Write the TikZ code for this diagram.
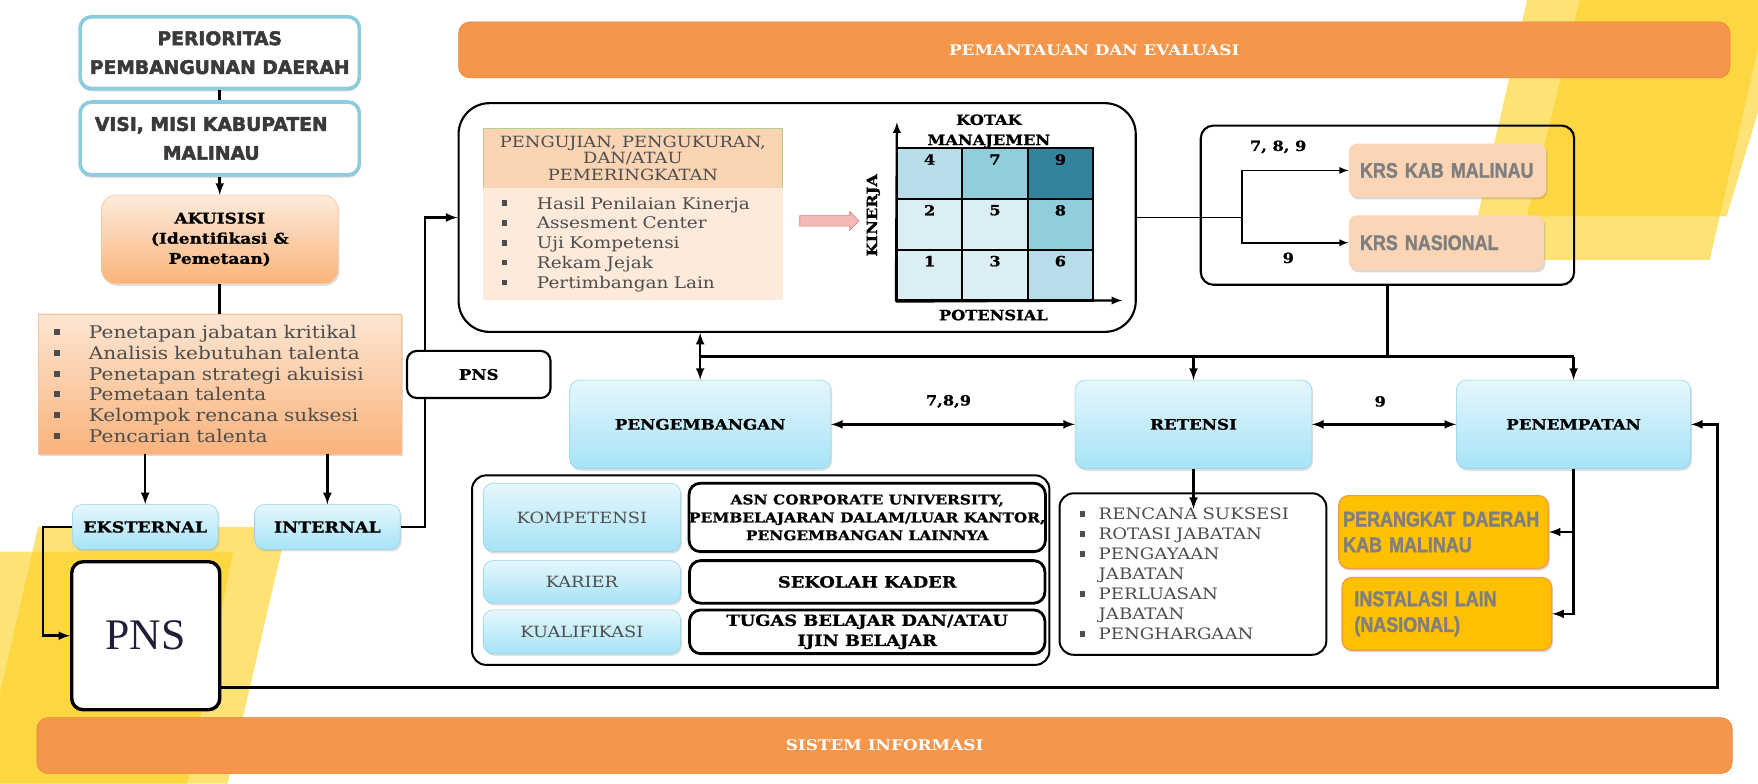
\documentclass[tikz,border=0pt]{standalone}
\usepackage{fontspec}
\setmainfont{DejaVu Serif}[FakeStretch=1.15]
\newfontfamily\serifheavy{DejaVu Serif}[UprightFont={* Bold}, FakeStretch=1.15, FakeBold=1]
\newfontfamily\heavyfont{DejaVu Sans}[UprightFont={* Bold}, FakeBold=2.5]
\newfontfamily\narrowfont{Liberation Sans}[UprightFont={* Bold}, FakeStretch=0.85, FakeBold=1.5]
\newfontfamily\timesfont{Liberation Serif}
\usepackage{xcolor}
\usepackage{tikz}
\usetikzlibrary{shapes.arrows,shadows}

\definecolor{framecol}{HTML}{8DCBDF}
\definecolor{txtdark}{HTML}{3A3A3A}
\definecolor{txtgray}{HTML}{4D4D4D}
\definecolor{txtmid}{HTML}{7F7F7F}
\definecolor{bluetop}{HTML}{E6F7FC}
\definecolor{bluebot}{HTML}{A6E3F7}
\definecolor{bluedge}{HTML}{93D2E8}
\definecolor{barfill}{HTML}{F5964A}
\definecolor{baredge}{HTML}{E3853C}
\definecolor{akutop}{HTML}{FDEBDC}
\definecolor{akubot}{HTML}{FBB47A}
\definecolor{akuedge}{HTML}{F8C49A}
\definecolor{listtop}{HTML}{FDE6D3}
\definecolor{listbot}{HTML}{FAB37C}
\definecolor{hdrfill}{HTML}{FBD4B4}
\definecolor{hdredge}{HTML}{B7CF8E}
\definecolor{ujifill}{HTML}{FDEADA}
\definecolor{gone}{HTML}{DBEEF3}
\definecolor{gtwo}{HTML}{B7DDE8}
\definecolor{gthree}{HTML}{92CDDC}
\definecolor{gfour}{HTML}{31849B}
\definecolor{krspeach}{HTML}{FBD5B5}
\definecolor{yel}{HTML}{FFC000}
\definecolor{yeledge}{HTML}{F79646}
\definecolor{arrowpink}{HTML}{F5B8B8}
\definecolor{arrowred}{HTML}{D9777A}
\definecolor{bgyellow}{HTML}{FDD021}
\definecolor{pnsink}{HTML}{1F1F3A}

\newcommand{\unitpx}{0.028cm}
\newcommand{\fsz}[2]{\fontsize{#1}{#2}\selectfont}
\newcommand{\sqb}{\rule[0.2em]{0.34em}{0.34em}}
\newcommand{\itm}[2][25pt]{\makebox[#1][l]{\sqb}#2}

\begin{document}
\begin{tikzpicture}[x=\unitpx, y=-\unitpx,
        conn/.style={line width=1.8pt},
        branch/.style={line width=1.2pt},
        framed/.style={draw=framecol, line width=2.6pt, fill=white, rounded corners=8pt, inner sep=0pt, align=center, minimum width=249*\unitpx, text=txtdark, font=\heavyfont\fsz{13.3}{20.5}, drop shadow={opacity=0.35, shadow xshift=0pt, shadow yshift=-2pt}},
        bluebox/.style={draw=bluedge, top color=bluetop, bottom color=bluebot, rounded corners=7pt, inner sep=0pt, align=center, text=black, font=\serifheavy\fsz{10.3}{13}, drop shadow={opacity=0.25, shadow xshift=1pt, shadow yshift=-1.5pt}},
        plainbox/.style={draw, line width=1.5pt, rounded corners=8pt, inner sep=0pt, align=center},
        bar/.style={draw=baredge, fill=barfill, rounded corners=8pt, minimum height=50*\unitpx, text=white, font=\bfseries\fsz{10.4}{12}},
        cell/.style={draw, line width=1.6pt, minimum width=58.3*\unitpx, minimum height=45.3*\unitpx, inner sep=0pt},
        krsbox/.style={fill=krspeach, rounded corners=6pt, inner ysep=0pt, align=left, text=txtmid, font=\narrowfont\fsz{15}{18}, drop shadow={opacity=0.3, shadow xshift=1pt, shadow yshift=-1.5pt}},
        yelbox/.style={draw=yeledge, line width=0.8pt, fill=yel, rounded corners=7pt, inner ysep=0pt, align=left, text=txtmid, font=\narrowfont\fsz{15}{18.3}, drop shadow={opacity=0.3, shadow xshift=1pt, shadow yshift=-1.5pt}},
        tag/.style={font=\serifheavy\fsz{10}{12}}]

        \useasboundingbox (0,0) rectangle (1568,699);

        \fill[bgyellow, fill opacity=0.62] (1362,0) -- (1568,0) -- (1568,43) -- (1525,232) -- (1309,232) -- cycle;
        \fill[bgyellow, fill opacity=0.62] (1409,0) -- (1568,0) -- (1568,100) -- (1540,193) -- (1362,193) -- cycle;
        \fill[bgyellow, fill opacity=0.62] (34,470) -- (256,470) -- (203,699) -- (0,699) -- (0,618) -- cycle;
        \fill[bgyellow, fill opacity=0.62] (0,492) -- (208,492) -- (167,699) -- (0,699) -- cycle;

        \node[bar, minimum width=1134*\unitpx] (monev) at (976,44.5) {PEMANTAUAN DAN EVALUASI};
        \node[bar, minimum width=1512*\unitpx] (sisinfo) at (789,665) {SISTEM INFORMASI};

        \node[framed, minimum height=64*\unitpx] (prio) at (196,47) {PERIORITAS\\PEMBANGUNAN DAERAH};
        \node[framed, minimum height=65*\unitpx] (visi) at (196,123.5) {VISI, MISI KABUPATEN\hspace*{12pt}\\MALINAU\hspace*{12pt}};
        \node[draw=akuedge, top color=akutop, bottom color=akubot, rounded corners=10pt, minimum width=211*\unitpx, minimum height=79*\unitpx, inner sep=0pt, align=center, font=\serifheavy\fsz{10.5}{14.3}, drop shadow={opacity=0.25, shadow xshift=1pt, shadow yshift=-1.5pt}] (akuisisi) at (196,213.5) {AKUISISI\\(Identifikasi \&\\Pemetaan)};
        \node[draw=akuedge, top color=listtop, bottom color=listbot, minimum width=324*\unitpx, minimum height=125*\unitpx, inner xsep=14*\unitpx, inner ysep=0pt, text width=8.288cm, align=left, text=txtgray, font=\fsz{12.4}{14.7}, drop shadow={opacity=0.3, shadow xshift=1.5pt, shadow yshift=-1.5pt}] (daftar) at (196,342.5) {\itm{Penetapan jabatan kritikal}\\\itm{Analisis kebutuhan talenta}\\\itm{Penetapan strategi akuisisi}\\\itm{Pemetaan talenta}\\\itm{Kelompok rencana suksesi}\\\itm{Pencarian talenta}};
        \node[bluebox, minimum width=130*\unitpx, minimum height=40*\unitpx, font=\serifheavy\fsz{10.8}{13}] (eks) at (129.5,470) {EKSTERNAL};
        \node[bluebox, minimum width=130*\unitpx, minimum height=40*\unitpx, font=\serifheavy\fsz{10.8}{13}] (int) at (292,470) {INTERNAL};
        \node[plainbox, line width=2.4pt, fill=white, minimum width=132*\unitpx, minimum height=132*\unitpx, text=pnsink, font=\timesfont\fsz{31}{36}] (pnsbig) at (130,567) {PNS};

        \draw[conn] (prio) -- (visi);
        \draw[conn,-latex] (visi) -- (akuisisi);
        \draw[conn] (akuisisi) -- (daftar);
        \draw[conn,-latex] (daftar.south -| eks.north) -- (eks.north);
        \draw[conn,-latex] (daftar.south -| int.north) -- (int.north);
        \draw[conn,-latex] (eks.west) -- ++(-26,0) |- (pnsbig.west);

        \node[plainbox, rounded corners=22pt, minimum width=604*\unitpx, minimum height=204*\unitpx] (uji) at (711,194) {};
        \draw[conn,-latex] (int.east) -- ++(22,0) |- (uji.west);
        \node[plainbox, fill=white, rounded corners=7pt, minimum width=128*\unitpx, minimum height=42*\unitpx, font=\serifheavy\fsz{10.3}{12}] (pnsk) at (427,334) {PNS};

        \node[draw=hdredge, fill=hdrfill, minimum width=267*\unitpx, minimum height=54*\unitpx, inner sep=0pt, align=center, text=txtgray, font=\fsz{11}{11.6}] (hdr) at (564.5,141) {PENGUJIAN, PENGUKURAN,\\DAN/ATAU\\PEMERINGKATAN};
        \node[fill=ujifill, minimum width=267*\unitpx, minimum height=100*\unitpx, inner xsep=16.5*\unitpx, inner ysep=0pt, text width=6.552cm, align=left, text=txtgray, font=\fsz{11.4}{14.1}] (ujilist) at (564.5,218) {\itm{Hasil Penilaian Kinerja}\\\itm{Assesment Center}\\\itm{Uji Kompetensi}\\\itm{Rekam Jejak}\\\itm{Pertimbangan Lain}};
        \node[single arrow, draw=arrowred, fill=arrowpink, minimum height=53*\unitpx, text height=4pt, text depth=3pt, single arrow head extend=3pt, inner sep=0pt] (pink) at (737.5,197) {};

        \node[align=center, font=\serifheavy\fsz{10}{14.3}] (kotak) at (882,117) {KOTAK\\MANAJEMEN};
        \node[tag, rotate=90] (kinerja) at (779,192) {KINERJA};
        \node[tag] (potensial) at (886,281) {POTENSIAL};

        \node[cell, fill=gtwo, label={[anchor=north, inner sep=5pt, tag]north:4}] (c4) at (829.2,154.7) {};
        \node[cell, fill=gthree, label={[anchor=north, inner sep=5pt, tag]north:7}] (c7) at (887.5,154.7) {};
        \node[cell, fill=gfour, label={[anchor=north, inner sep=5pt, tag]north:9}] (c9) at (945.8,154.7) {};
        \node[cell, fill=gone, label={[anchor=north, inner sep=5pt, tag]north:2}] (c2) at (829.2,200) {};
        \node[cell, fill=gone, label={[anchor=north, inner sep=5pt, tag]north:5}] (c5) at (887.5,200) {};
        \node[cell, fill=gthree, label={[anchor=north, inner sep=5pt, tag]north:8}] (c8) at (945.8,200) {};
        \node[cell, fill=gone, label={[anchor=north, inner sep=5pt, tag]north:1}] (c1) at (829.2,245.3) {};
        \node[cell, fill=gone, label={[anchor=north, inner sep=5pt, tag]north:3}] (c3) at (887.5,245.3) {};
        \node[cell, fill=gtwo, label={[anchor=north, inner sep=5pt, tag]north:6}] (c6) at (945.8,245.3) {};

        \coordinate (ytop) at (800,109);
        \coordinate (xend) at (1001,268);
        \draw[line width=1.6pt,-latex] (c1.south west) -- (ytop);
        \draw[line width=1.6pt,-latex] (c1.south west) -- (xend);

        \node[plainbox, rounded corners=9pt, minimum width=333*\unitpx, minimum height=142*\unitpx] (krs) at (1237.5,183) {};
        \node[krsbox, minimum width=176*\unitpx, minimum height=48*\unitpx, inner xsep=10*\unitpx, text width=4.368cm] (krskab) at (1291,152) {KRS KAB MALINAU};
        \node[krsbox, minimum width=174*\unitpx, minimum height=49*\unitpx, inner xsep=10*\unitpx, text width=4.312cm] (krsnas) at (1290,216.5) {KRS NASIONAL};
        \node[tag] (lkab) at (1140,131) {7, 8, 9};
        \node[tag] (lnas) at (1149,230) {9};

        \coordinate (fork) at (1108,194);
        \draw[branch] (uji.east) -- (fork);
        \draw[branch,-latex] (fork) |- (krskab.west);
        \draw[branch,-latex] (fork) |- (krsnas.west);

        \node[bluebox, minimum width=233*\unitpx, minimum height=79*\unitpx] (pengembangan) at (624.5,378.5) {PENGEMBANGAN};
        \node[bluebox, minimum width=211*\unitpx, minimum height=79*\unitpx] (retensi) at (1064.5,378.5) {RETENSI};
        \node[bluebox, minimum width=209*\unitpx, minimum height=79*\unitpx] (penempatan) at (1403.5,378.5) {PENEMPATAN};
        \node[tag] (lpr) at (846,358) {7,8,9};
        \node[tag] (lrp) at (1231,358) {9};

        \coordinate (hub) at (624.5,318);
        \draw[conn,latex-latex] (uji.south -| pengembangan.north) -- (pengembangan.north);
        \draw[conn] (hub) -- (hub -| penempatan.north);
        \draw[conn] (krs.south) -- (krs.south |- hub);
        \draw[conn,-latex] (hub -| retensi.north) -- (retensi.north);
        \draw[conn,-latex] (hub -| penempatan.north) -- (penempatan.north);
        \draw[conn,latex-latex] (pengembangan.east) -- (retensi.west);
        \draw[conn,latex-latex] (retensi.east) -- (penempatan.west);

        \node[plainbox, line width=1.4pt, rounded corners=10pt, minimum width=515*\unitpx, minimum height=169*\unitpx] (panel) at (678.5,508.5) {};
        \node[bluebox, minimum width=176*\unitpx, minimum height=61*\unitpx, text=txtgray, font=\fsz{11}{13}] (komp) at (519,461.5) {KOMPETENSI};
        \node[bluebox, minimum width=176*\unitpx, minimum height=38*\unitpx, text=txtgray, font=\fsz{11}{13}] (karier) at (519,519) {KARIER};
        \node[bluebox, minimum width=176*\unitpx, minimum height=39*\unitpx, text=txtgray, font=\fsz{11}{13}] (kualif) at (519,563.5) {KUALIFIKASI};
        \node[plainbox, line width=2pt, fill=white, minimum width=317*\unitpx, minimum height=61*\unitpx, font=\serifheavy\fsz{9.5}{12.7}] (asn) at (773.5,461.5) {ASN CORPORATE UNIVERSITY,\\PEMBELAJARAN DALAM/LUAR KANTOR,\\PENGEMBANGAN LAINNYA};
        \node[plainbox, line width=2pt, fill=white, minimum width=317*\unitpx, minimum height=38*\unitpx, font=\serifheavy\fsz{11}{13}] (kader) at (773.5,519) {SEKOLAH KADER};
        \node[plainbox, line width=2pt, fill=white, minimum width=317*\unitpx, minimum height=39*\unitpx, font=\serifheavy\fsz{11}{14.3}] (tugas) at (773.5,563.5) {TUGAS BELAJAR DAN/ATAU\\IJIN BELAJAR};

        \node[plainbox, line width=1.4pt, fill=white, rounded corners=10pt, minimum width=238*\unitpx, minimum height=144*\unitpx, inner xsep=18*\unitpx, text width=5.656cm, align=left, text=txtgray, font=\fsz{11.2}{14.2}] (retlist) at (1064,512) {\itm[13.5pt]{RENCANA SUKSESI}\\\itm[13.5pt]{ROTASI JABATAN}\\\itm[13.5pt]{PENGAYAAN}\\\hspace*{13.5pt}JABATAN\\\itm[13.5pt]{PERLUASAN}\\\hspace*{13.5pt}JABATAN\\\itm[13.5pt]{PENGHARGAAN}};
        \coordinate (rettip) at (1064.5,454);
        \draw[conn,-latex] (retensi.south) -- (rettip);

        \node[yelbox, minimum width=187*\unitpx, minimum height=65*\unitpx, inner xsep=4*\unitpx, text width=5.012cm] (perangkat) at (1287.5,474.5) {PERANGKAT DAERAH\\KAB MALINAU};
        \node[yelbox, minimum width=187*\unitpx, minimum height=65*\unitpx, inner xsep=11*\unitpx, text width=4.62cm] (instalasi) at (1290.5,547.5) {INSTALASI LAIN\\(NASIONAL)};
        \draw[conn,-latex] (penempatan.south) |- (instalasi.east);
        \draw[conn,-latex] (penempatan.south |- perangkat.east) -- (perangkat.east);

        \coordinate (loopend) at (1532,613);
        \draw[conn,-latex] (pnsbig.east |- loopend) -- (loopend) |- (penempatan.east);
    \end{tikzpicture}
\end{document}
